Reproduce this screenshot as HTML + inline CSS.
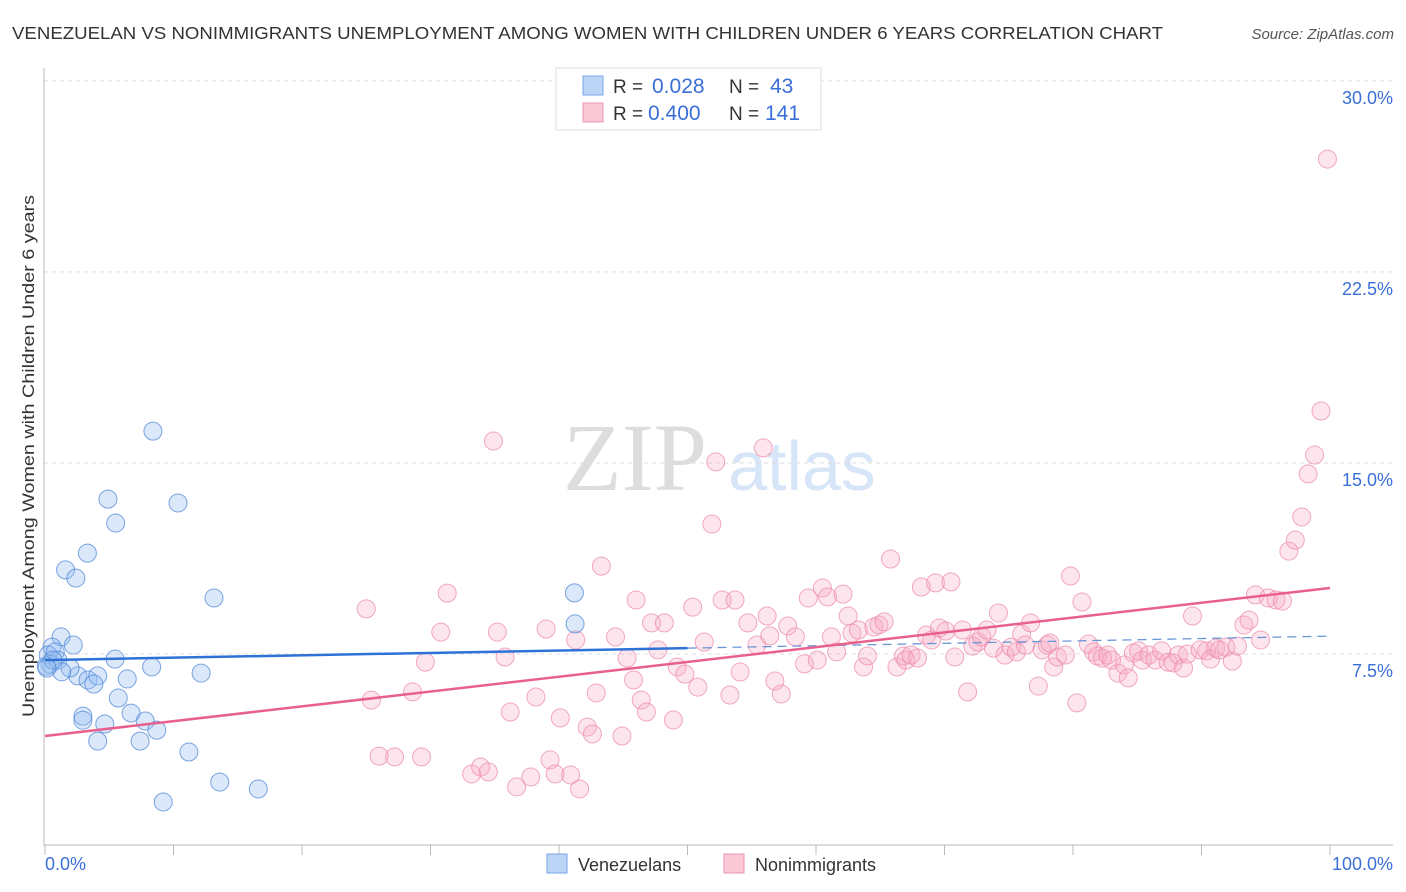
<!DOCTYPE html>
<html><head><meta charset="utf-8">
<style>
body{margin:0;background:#fff;font-family:"Liberation Sans",sans-serif;}
#wrap{position:relative;width:1406px;height:892px;overflow:hidden;}
</style></head>
<body>
<div id="wrap">
<svg id="svg" width="1406" height="892" xmlns="http://www.w3.org/2000/svg">
<text x="12" y="39" font-size="17.5" fill="#333" textLength="1151" lengthAdjust="spacingAndGlyphs">VENEZUELAN VS NONIMMIGRANTS UNEMPLOYMENT AMONG WOMEN WITH CHILDREN UNDER 6 YEARS CORRELATION CHART</text>
<text x="1394" y="39" font-size="15" fill="#555" font-style="italic" text-anchor="end">Source: ZipAtlas.com</text>
<text x="0" y="0" transform="translate(34,717) rotate(-90)" font-size="17" fill="#333" textLength="522" lengthAdjust="spacingAndGlyphs">Unemployment Among Women with Children Under 6 years</text>
<g>
<text x="635" y="490" font-size="96" fill="#ddd" font-family="Liberation Serif,serif" text-anchor="middle">ZIP</text>
<text x="802" y="490" font-size="70" fill="#d6e5f7" text-anchor="middle">atlas</text>
</g>
<g id="grid"></g>
<g id="axes"></g>
<g id="pts"></g>
<g id="trend"></g>
<g>
<rect x="556" y="68" width="265" height="62" fill="#fff" stroke="#ddd"/>
<rect x="583" y="76" width="20" height="19" fill="#bcd4f6" stroke="#7aa6e6"/>
<rect x="583" y="103" width="20" height="19" fill="#fbc8d6" stroke="#ee94b0"/>
<text x="613" y="93" font-size="19" fill="#333">R = <tspan x="652" fill="#3a6fd8" font-size="21">0.028</tspan><tspan x="729">N = </tspan><tspan x="770" fill="#3a6fd8" font-size="21">43</tspan></text>
<text x="613" y="120" font-size="19" fill="#333">R = <tspan x="648" fill="#3a6fd8" font-size="21">0.400</tspan><tspan x="729">N = </tspan><tspan x="765" fill="#3a6fd8" font-size="21">141</tspan></text>
</g>
<g>
<rect x="547" y="854" width="20" height="19" fill="#bcd4f6" stroke="#7aa6e6"/>
<text x="578" y="871" font-size="18" fill="#333">Venezuelans</text>
<rect x="724" y="854" width="20" height="19" fill="#fbc8d6" stroke="#ee94b0"/>
<text x="755" y="871" font-size="18" fill="#333">Nonimmigrants</text>
</g>
<text x="45" y="870" font-size="18" fill="#3a6fd8">0.0%</text>
<text x="1393" y="870" font-size="18" fill="#3a6fd8" text-anchor="end">100.0%</text>
</svg>
</div>
<script>
const yTicks=[7.5,15,22.5,30];
const yTickLabels=["7.5%","15.0%","22.5%","30.0%"];
const xTicks=[0,10,20,30,40,50,60,70,80,90,100];
const blueX=[8.4,4.9,10.35,5.5,3.3,1.6,2.4,13.15,41.2,41.25,1.25,2.2,0.55,0.25,0.8,0.4,0.1,1.0,5.45,8.3,12.15,2.55,3.35,4.1,3.8,5.7,6.4,2.95,2.95,4.65,6.7,7.8,4.1,7.4,8.7,11.2,13.6,16.6,9.2,1.95,1.3,0.6,0.15];
const blueY=[16.25,13.58,13.43,12.64,11.46,10.8,10.48,9.7,9.9,8.68,8.17,7.85,7.77,7.46,7.58,7.1,7.03,7.26,7.3,6.99,6.75,6.64,6.48,6.64,6.32,5.77,6.52,5.06,4.9,4.75,5.18,4.87,4.08,4.08,4.51,3.65,2.47,2.2,1.69,6.95,6.8,7.26,6.95];
const pinkX=[25.0,25.4,26.0,27.2,28.6,29.3,29.6,30.8,31.3,33.2,33.9,34.5,34.9,35.2,35.8,36.2,36.7,37.8,38.2,39.0,39.3,39.7,40.1,40.9,41.3,41.6,42.2,42.6,42.9,43.3,44.4,44.9,45.3,45.8,46.0,46.4,46.8,47.2,47.7,48.2,48.9,49.2,49.8,50.4,50.8,51.3,51.9,52.2,52.7,53.3,53.7,54.1,54.7,55.4,55.9,56.2,56.4,56.8,57.3,57.8,58.4,59.1,59.4,60.1,60.5,60.9,61.2,61.6,62.1,62.5,62.8,63.3,63.7,64.0,64.5,64.9,65.3,65.8,66.3,66.8,67.0,67.4,67.9,68.2,68.6,69.0,69.3,69.6,70.1,70.5,70.8,71.4,71.8,72.2,72.6,72.9,73.3,73.8,74.2,74.7,75.2,75.6,76.0,76.3,76.7,77.3,77.6,78.0,78.2,78.5,78.8,79.4,79.8,80.3,80.7,81.2,81.6,81.9,82.3,82.7,83.0,83.5,84.0,84.3,84.7,85.1,85.4,85.9,86.4,86.9,87.4,87.8,88.2,88.6,88.9,89.3,89.9,90.4,90.7,91.1,91.4,91.9,92.4,92.8,93.3,93.7,94.2,94.6,95.2,95.8,96.3,96.8,97.3,97.8,98.3,98.8,99.3,99.8];
const pinkY=[9.27,5.69,3.49,3.46,6.01,3.46,7.18,8.36,9.89,2.79,3.06,2.87,15.86,8.36,7.38,5.22,2.28,2.67,5.81,8.48,3.34,2.79,4.99,2.75,8.05,2.2,4.63,4.36,5.97,10.95,8.17,4.28,7.34,6.48,9.62,5.69,5.22,8.72,7.66,8.72,4.91,6.99,6.71,9.34,6.2,7.97,12.6,15.04,9.62,5.89,9.62,6.79,8.72,7.85,15.59,8.99,8.21,6.44,5.93,8.6,8.17,7.11,9.7,7.26,10.09,9.74,8.17,7.58,9.85,8.99,8.32,8.44,6.99,7.42,8.56,8.64,8.76,11.23,6.99,7.42,7.26,7.46,7.34,10.13,8.24,8.05,10.29,8.52,8.4,10.33,7.38,8.44,6.01,7.81,7.97,8.17,8.44,7.73,9.11,7.46,7.77,7.58,8.28,7.85,8.72,6.24,7.66,7.85,7.93,6.99,7.38,7.46,10.56,5.58,9.54,7.89,7.58,7.42,7.34,7.46,7.26,6.75,7.07,6.56,7.54,7.62,7.26,7.46,7.26,7.62,7.18,7.15,7.46,6.95,7.5,8.99,7.66,7.62,7.3,7.73,7.66,7.77,7.22,7.81,8.64,8.83,9.82,8.05,9.7,9.62,9.58,11.54,11.97,12.88,14.57,15.31,17.04,26.93];
const blueTrend=[7.26,8.2];
const pinkTrend=[4.28,10.09];

const NS="http://www.w3.org/2000/svg";
const X=v=>45+v*12.85;
const Y=v=>845-v*25.47;
function mk(tag,attrs,parent){const e=document.createElementNS(NS,tag);for(const k in attrs)e.setAttribute(k,attrs[k]);parent.appendChild(e);return e;}
const grid=document.getElementById('grid'),axes=document.getElementById('axes'),pts=document.getElementById('pts'),trend=document.getElementById('trend');
yTicks.forEach((t,i)=>{
  const l=mk('line',{x1:44,x2:1393,y1:Y(t),y2:Y(t),stroke:'#ddd','stroke-dasharray':'4,4'},grid);
  
  
  const tx=mk('text',{x:1393,y:Y(t)+23,'font-size':18,fill:'#3a6fd8','text-anchor':'end'},grid);
  tx.textContent=yTickLabels[i];
  
  
});
const ax=mk('line',{x1:44,x2:44,y1:68,y2:846,stroke:'#bbb'},axes);


const bx=mk('line',{x1:44,x2:1393,y1:845,y2:845,stroke:'#bbb'},axes);


xTicks.forEach(t=>{
  const l=mk('line',{x1:X(t),x2:X(t),y1:845,y2:855,stroke:'#bbb'},axes);
  
  
});
pinkX.forEach((x,i)=>{
  const c=mk('circle',{cx:X(x),cy:Y(pinkY[i]),r:9,fill:'rgba(248,170,196,0.3)',stroke:'rgba(236,140,172,0.75)','stroke-width':1},pts);
  
  
});
blueX.forEach((x,i)=>{
  const c=mk('circle',{cx:X(x),cy:Y(blueY[i]),r:9,fill:'rgba(150,188,240,0.35)',stroke:'rgba(80,135,215,0.75)','stroke-width':1},pts);
  
  
});
const bAt=x=>blueTrend[0]+(blueTrend[1]-blueTrend[0])*x/100;
const b1=mk('line',{x1:X(0),y1:Y(bAt(0)),x2:X(50),y2:Y(bAt(50)),stroke:'#2f72d6','stroke-width':2.5},trend);


const b2=mk('line',{x1:X(50),y1:Y(bAt(50)),x2:X(100),y2:Y(bAt(100)),stroke:'#6a96d8','stroke-width':1.3,'stroke-dasharray':'9,6'},trend);


const p1=mk('line',{x1:X(0),y1:Y(pinkTrend[0]),x2:X(100),y2:Y(pinkTrend[1]),stroke:'#e8608e','stroke-width':2.5},trend);


</script>
</body></html>
